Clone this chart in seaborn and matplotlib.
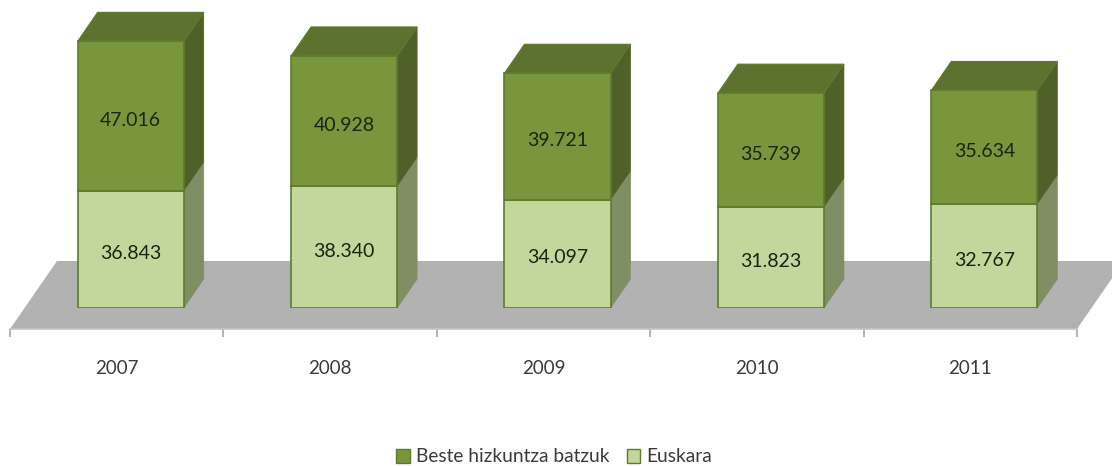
import pandas as pd
import seaborn as sns
import matplotlib
matplotlib.use("Agg")
import matplotlib.pyplot as plt
from matplotlib.patches import Patch, Polygon

years = ["2007", "2008", "2009", "2010", "2011"]
euskara = [36843, 38340, 34097, 31823, 32767]
beste = [47016, 40928, 39721, 35739, 35634]
series_names = ["Beste hizkuntza batzuk", "Euskara"]

W, H = 1112, 466
DEPTH_X, DEPTH_Y = 20, 29  # pixels of fake 3d depth


def px_axes(fig, left, right, top, bottom):
    return fig.add_axes([left / W, 1 - bottom / H, (right - left) / W, (bottom - top) / H])


def add_side_faces(ax, bars, side_color, top_color=None, edge="#5f7a2c"):
    # depth is in pixels, turn it into data units of this axes
    bbox = ax.get_window_extent()
    x0, x1 = ax.get_xlim()
    y0, y1 = ax.get_ylim()
    dx = DEPTH_X * (x1 - x0) / bbox.width
    dy = DEPTH_Y * (y1 - y0) / bbox.height
    for bar in bars:
        xl, xr = bar.get_x(), bar.get_x() + bar.get_width()
        yb, yt = bar.get_y(), bar.get_y() + bar.get_height()
        side = [(xr, yb), (xr + dx, yb + dy), (xr + dx, yt + dy), (xr, yt)]
        ax.add_patch(Polygon(side, closed=True, facecolor=side_color, edgecolor=side_color,
                             linewidth=0.5, zorder=1, clip_on=False))
        if top_color:
            top = [(xl, yt), (xr, yt), (xr + dx, yt + dy), (xl + dx, yt + dy)]
            ax.add_patch(Polygon(top, closed=True, facecolor=top_color, edgecolor=edge,
                                 linewidth=0.8, zorder=1, clip_on=False))


def main():
    sns.set_theme(style="white")
    plt.rcParams["font.family"] = ["Lato", "DejaVu Sans"]

    df = pd.DataFrame({"year": years, "Euskara": euskara, "Beste": beste})

    fig = plt.figure(figsize=(W / 100, H / 100), dpi=100, facecolor="white")

    # floor with the category axis
    floor = px_axes(fig, 10, 1077, 261, 329)
    floor.set_facecolor("none")
    floor.set_xlim(-0.5, 4.5)
    floor.set_ylim(0, 1)
    shift = 47 / 1067
    floor.add_patch(Polygon([(0, 0), (1, 0), (1 + shift, 1), (shift, 1)], closed=True,
                            transform=floor.transAxes, facecolor="#b2b2b2", edgecolor="none",
                            clip_on=False))
    floor.set_xticks(range(len(years)))
    floor.set_xticklabels(years, fontsize=13.5, color="#3a3a3a")
    floor.set_xticks([i - 0.5 for i in range(len(years) + 1)], minor=True)
    floor.tick_params(axis="x", which="minor", length=5.8, width=1.2, color="#a6a6a6", bottom=True)
    floor.tick_params(axis="x", which="major", length=0, pad=22)
    floor.set_yticks([])
    for name, spine in floor.spines.items():
        spine.set_visible(name == "bottom")
    floor.spines["bottom"].set_color("#c4c4c4")
    floor.spines["bottom"].set_linewidth(1.2)

    # bars sit on the middle of the floor so this axes is shifted
    ax = px_axes(fig, 24, 1091, 0, 308)
    ax.patch.set_alpha(0)
    sns.barplot(data=df, x="year", y="Euskara", color="#c3d69b", saturation=1, width=0.497,
                edgecolor="#5f7a2c", linewidth=1.2, ax=ax, zorder=2)
    sns.barplot(data=df, x="year", y="Beste", bottom=df["Euskara"], color="#7a963c", saturation=1,
                width=0.497, edgecolor="#5f7a2c", linewidth=1.2, ax=ax, zorder=2)
    ax.set_xlim(-0.5, 4.5)
    ax.set_ylim(0, 96855)
    ax.axis("off")

    low, high = ax.containers[0], ax.containers[1]
    add_side_faces(ax, low, "#7f8f63")
    add_side_faces(ax, high, "#4f6128", top_color="#5d722f")

    ax.bar_label(low, labels=[f"{v:,}".replace(",", ".") for v in euskara], label_type="center",
                 padding=-3, fontsize=14, color="#1c2410")
    ax.bar_label(high, labels=[f"{v:,}".replace(",", ".") for v in beste], label_type="center",
                 padding=-3, fontsize=14, color="#1c2410")

    handles = [Patch(facecolor="#7a963c", edgecolor="#5f7a2c", label=series_names[0]),
               Patch(facecolor="#c3d69b", edgecolor="#5f7a2c", label=series_names[1])]
    fig.legend(handles=handles, loc="center", bbox_to_anchor=(554 / W, 1 - 457 / H), ncol=2,
               frameon=False, fontsize=13.8, labelcolor="#3a3a3a", handlelength=0.73,
               handleheight=0.73, handletextpad=0.3, columnspacing=0.9,
               borderpad=0, borderaxespad=0)

    fig.savefig("out.png", dpi=100, facecolor="white")


if __name__ == "__main__":
    main()
